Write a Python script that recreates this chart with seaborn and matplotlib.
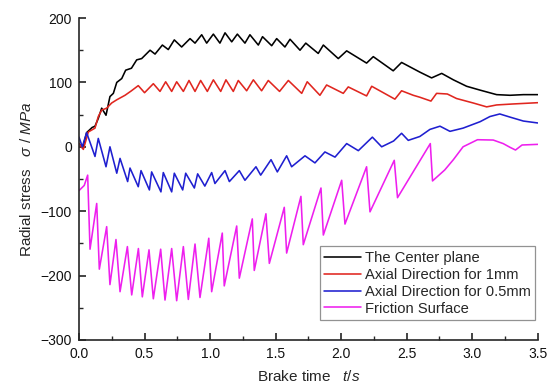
import numpy as np
import pandas as pd
import matplotlib
matplotlib.use("Agg")
import matplotlib.pyplot as plt
import seaborn as sns
from matplotlib.ticker import MultipleLocator

# series (time in s, stress in MPa)
t_center = [0, 0.028, 0.058, 0.10, 0.122, 0.147, 0.173, 0.206, 0.236, 0.262, 0.288, 0.326,
            0.356, 0.40, 0.44, 0.478, 0.542, 0.58, 0.636, 0.681, 0.727, 0.783, 0.847, 0.885,
            0.936, 0.974, 1.025, 1.075, 1.114, 1.165, 1.208, 1.266, 1.304, 1.368, 1.40, 1.47,
            1.508, 1.571, 1.61, 1.686, 1.73, 1.825, 1.864, 1.978, 2.042, 2.194, 2.245, 2.397,
            2.461, 2.60, 2.69, 2.767, 2.856, 2.957, 3.06, 3.186, 3.288, 3.39, 3.5]
v_center = [5, -2, 22, 30, 32, 44, 60, 49, 78, 83, 100, 106,
            119, 122, 135, 137, 150, 144, 158, 151, 166, 155, 168, 161,
            174, 161, 175, 161, 177, 163, 175, 161, 174, 158, 171, 157,
            168, 155, 167, 150, 161, 145, 158, 137, 149, 130, 140, 118,
            131, 116, 107, 114, 104, 94, 88, 81, 80, 81, 81]

t_1mm = [0, 0.033, 0.071, 0.122, 0.147, 0.173, 0.211, 0.249, 0.288, 0.351, 0.40, 0.452,
         0.50, 0.567, 0.618, 0.661, 0.707, 0.745, 0.796, 0.839, 0.885, 0.928, 0.979, 1.025,
         1.081, 1.121, 1.177, 1.215, 1.279, 1.33, 1.393, 1.444, 1.53, 1.597, 1.699, 1.741,
         1.838, 1.889, 2.016, 2.054, 2.194, 2.233, 2.41, 2.461, 2.55, 2.60, 2.685, 2.728,
         2.81, 2.88, 3.008, 3.11, 3.186, 3.31, 3.5]
v_1mm = [5, -4, 23, 29, 47, 57, 60, 68, 73, 80, 87, 95,
         84, 98, 86, 101, 86, 101, 86, 103, 86, 103, 86, 104,
         86, 104, 86, 103, 87, 104, 87, 103, 86, 103, 83, 101,
         80, 96, 83, 93, 79, 94, 74, 87, 80, 77, 71, 83,
         82, 75, 68, 62, 65, 66.5, 68.5]

t_05mm = [0, 0.025, 0.058, 0.122, 0.147, 0.206, 0.236, 0.288, 0.313, 0.371, 0.389, 0.452,
          0.473, 0.537, 0.554, 0.625, 0.643, 0.707, 0.727, 0.791, 0.814, 0.88, 0.905, 0.96,
          1.012, 1.037, 1.114, 1.147, 1.223, 1.266, 1.35, 1.386, 1.465, 1.513, 1.584, 1.622,
          1.724, 1.80, 1.876, 1.953, 2.042, 2.131, 2.238, 2.309, 2.40, 2.461, 2.512, 2.60,
          2.677, 2.754, 2.83, 2.93, 3.06, 3.135, 3.21, 3.29, 3.39, 3.5]
v_05mm = [15, 0, 22, -15, 13, -31, 0, -41, -18, -54, -33, -62,
          -37, -67, -39, -70, -40, -70, -41, -67, -41, -64, -42, -61,
          -40, -57, -37, -54, -37, -52, -31, -44, -20, -39, -14, -31,
          -14, -25, -8, -16, 5, -6, 15, 0, 9, 21, 10, 16,
          27, 32, 24, 29, 39, 47, 51, 46, 40, 37]

t_friction = [0, 0.04, 0.066, 0.084, 0.135, 0.155, 0.211, 0.236, 0.282, 0.313, 0.369, 0.402,
              0.453, 0.483, 0.534, 0.567, 0.623, 0.656, 0.707, 0.745, 0.796, 0.834, 0.885, 0.923,
              0.99, 1.012, 1.093, 1.108, 1.203, 1.223, 1.322, 1.337, 1.426, 1.452, 1.566, 1.584,
              1.693, 1.711, 1.846, 1.864, 2.004, 2.029, 2.194, 2.22, 2.405, 2.43, 2.68, 2.697,
              2.79, 2.856, 2.93, 3.04, 3.16, 3.236, 3.29, 3.33, 3.38, 3.5]
v_friction = [-68, -60, -44, -159, -88, -190, -124, -214, -144, -225, -155, -230,
              -158, -233, -160, -236, -159, -238, -158, -239, -155, -237, -151, -234,
              -142, -225, -134, -216, -123, -204, -112, -192, -104, -181, -94, -165,
              -77, -152, -64, -137, -52, -120, -31, -101, -21, -79, 5, -53,
              -36, -20, 0, 11, 10.5, 5, -1, -5, 2.8, 3.8]

labels = ["The Center plane", "Axial Direction for 1mm",
          "Axial Direction for 0.5mm", "Friction Surface"]
colors = ["#000000", "#e0261f", "#1f1fd0", "#ee1fee"]

df = pd.concat([
    pd.DataFrame({"t": t_center, "v": v_center, "s": labels[0]}),
    pd.DataFrame({"t": t_1mm, "v": v_1mm, "s": labels[1]}),
    pd.DataFrame({"t": t_05mm, "v": v_05mm, "s": labels[2]}),
    pd.DataFrame({"t": t_friction, "v": v_friction, "s": labels[3]}),
])

sns.set_style("ticks")
plt.rcParams["font.family"] = ["Liberation Sans", "DejaVu Sans"]
plt.rcParams["mathtext.fontset"] = "custom"
plt.rcParams["mathtext.rm"] = "Liberation Sans"
plt.rcParams["mathtext.it"] = "Liberation Sans:italic"

fig = plt.figure(figsize=(5.51, 3.89), dpi=100)
ax = fig.add_axes([0.1434, 0.126, 0.8326, 0.8277])

sns.lineplot(data=df, x="t", y="v", hue="s", palette=colors, hue_order=labels,
             linewidth=1.15, sort=False, estimator=None, ax=ax)

ax.set_xlim(0, 3.5)
ax.set_ylim(-300, 200)
ax.xaxis.set_major_locator(MultipleLocator(0.5))
ax.xaxis.set_minor_locator(MultipleLocator(0.25))
ax.yaxis.set_major_locator(MultipleLocator(100))
ax.yaxis.set_minor_locator(MultipleLocator(50))
ax.xaxis.set_major_formatter(plt.FormatStrFormatter("%.1f"))
ax.tick_params(which="major", direction="in", length=5, width=1.1, labelsize=10,
               colors="#111111", pad=5)
ax.tick_params(which="minor", direction="in", length=3, width=1.0)
sns.despine(ax=ax)
for s in ["left", "bottom"]:
    ax.spines[s].set_linewidth(1.2)

ax.set_xlabel(r"Brake time   $\mathit{t/s}$", fontsize=11, labelpad=6)
ax.set_ylabel(r"Radial stress   $\mathit{σ\ /\ MPa}$", fontsize=11, labelpad=5)

leg = ax.legend(loc="lower right", bbox_to_anchor=(0.995, 0.062), borderaxespad=0,
                fontsize=10.6, frameon=True, fancybox=False, handlelength=2.5,
                handletextpad=0.3, labelspacing=0.2, borderpad=0.3, title=None)
leg.get_frame().set_edgecolor("#777777")
leg.get_frame().set_linewidth(0.9)

fig.savefig("out.png", dpi=100)
